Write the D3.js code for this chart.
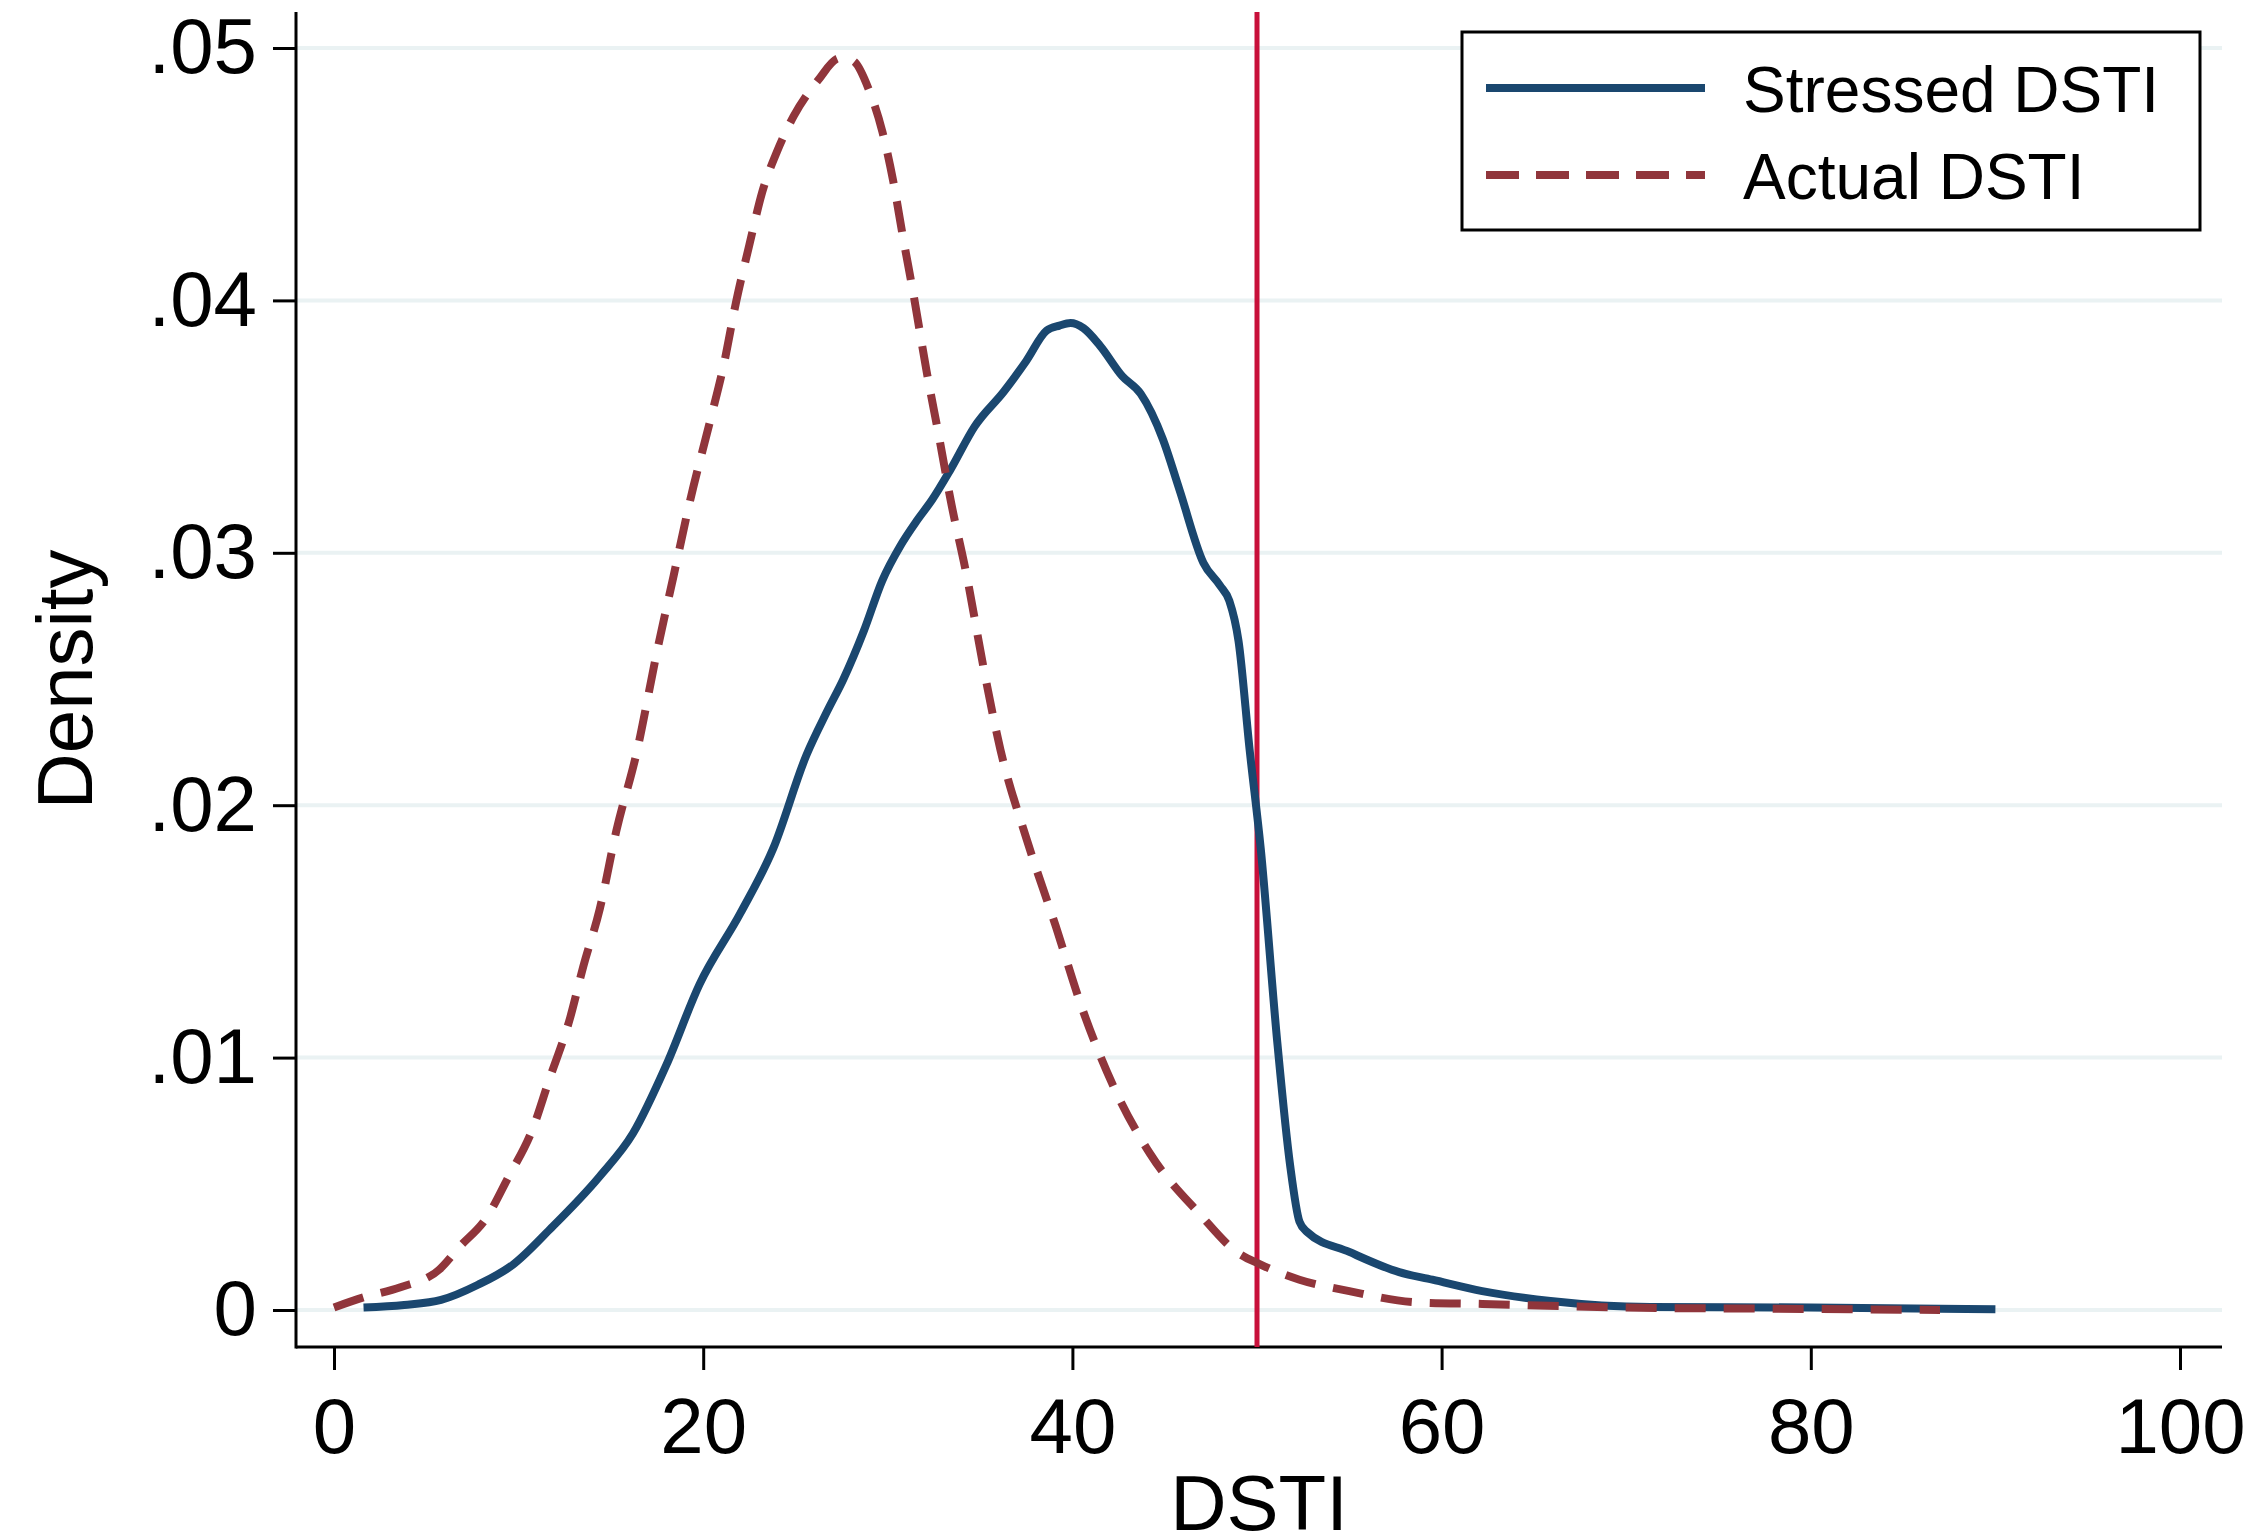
<!DOCTYPE html>
<html>
<head>
<meta charset="utf-8">
<script src="https://cdn.jsdelivr.net/npm/d3@7"></script>
<style>
  body { margin: 0; background: white; }
</style>
</head>
<body>
<script>
'use strict';

// DSTI values (x) and kernel density estimates
const stressedX = [1.6, 3.8, 5.8, 7.8, 9.7, 11.7, 14.4, 16.2, 18.0, 19.8, 22.0, 23.8, 25.6, 26.7, 27.6, 28.7,
  29.7, 30.7, 31.6, 32.4, 33.4, 34.7, 36.3, 37.5, 38.6, 39.3, 39.9, 40.6, 41.5, 42.7, 43.7, 44.9, 45.8, 47.1,
  48.0, 48.5, 49.0, 49.6, 50.2, 51.1, 51.8, 52.3, 52.7, 55.0, 57.7, 59.5, 62.2, 65.9, 71.3, 80.0, 90.0];
const stressedY = [0.0001, 0.0002, 0.0004, 0.0010, 0.0018, 0.0032, 0.0053, 0.0070, 0.0097, 0.0129, 0.0157,
  0.0183, 0.0220, 0.0237, 0.0250, 0.0269, 0.0289, 0.0303, 0.0313, 0.0321, 0.0333, 0.0350, 0.0364, 0.0376,
  0.0388, 0.0390, 0.0391, 0.0389, 0.0382, 0.0370, 0.0363, 0.0345, 0.0325, 0.0296, 0.0287, 0.0281, 0.0265,
  0.0222, 0.0183, 0.0106, 0.0057, 0.0035, 0.0031, 0.0023, 0.0015, 0.0012, 0.00075, 0.00036, 0.00012,
  0.0001, 0.00003];

const actualX = [0, 1.6, 3.6, 5.7, 6.8, 8.3, 9.4, 10.8, 11.6, 12.8, 13.5, 14.4, 15.3, 16.4, 17.5, 18.4,
  19.3, 20.4, 21.1, 21.8, 22.5, 23.2, 24.0, 24.9, 26.2, 27.4, 28.1, 29.0, 29.7, 30.3, 30.8, 31.4, 32.1,
  32.8, 33.4, 34.3, 35.2, 36.1, 37.5, 39.1, 40.6, 42.2, 44.2, 46.9, 48.9, 50.2, 52.3, 55.0, 58.7, 62.2,
  69.5, 78.0, 87.0];
const actualY = [0.0001, 0.0005, 0.0009, 0.0016, 0.0025, 0.0037, 0.0052, 0.00725, 0.0090, 0.0116, 0.0136,
  0.0159, 0.0190, 0.0221, 0.0261, 0.0291, 0.0321, 0.0353, 0.0374, 0.0400, 0.0422, 0.0443, 0.0459, 0.0473,
  0.0487, 0.0496, 0.0495, 0.0483, 0.0467, 0.0447, 0.0426, 0.0402, 0.0372, 0.0345, 0.0321, 0.0290, 0.0254,
  0.0222, 0.0187, 0.0152, 0.0118, 0.0089, 0.0062, 0.0038, 0.0023, 0.0018, 0.0012, 0.00075, 0.0003,
  0.00024, 0.0001, 0.00005, 0.0];

const xTicks = [0, 20, 40, 60, 80, 100];
const yTicks = [0, 0.01, 0.02, 0.03, 0.04, 0.05];
const yTickLabels = ["0", ".01", ".02", ".03", ".04", ".05"];
const threshold = 50;
const seriesNames = ["Stressed DSTI", "Actual DSTI"];

(function() {

  let svgContainer = "";
  const font = "'Liberation Sans', Arial, Helvetica, sans-serif";

  // plot box edges (axis lines run along these)
  const plotLeft = 296, plotRight = 2222, plotTop = 12, plotBottom = 1347;

  window.onload = function() {
    svgContainer = d3.select('body')
      .append('svg')
      .attr('width', 2267)
      .attr('height', 1539)
      .style('font-family', font);

    let map = drawAxes();
    plotData(map);
    makeLegend();
    makeLabels();
  }

  // scales, gridlines, axes and ticks
  function drawAxes() {
    let xScale = d3.scaleLinear()
      .domain([0, 100])
      .range([334, 2180]);

    let yScale = d3.scaleLinear()
      .domain([0, 0.05])
      .range([1310, 48]);

    // light horizontal gridlines
    svgContainer.append('g')
      .selectAll('line')
      .data(yTicks)
      .enter()
      .append('line')
        .attr('x1', plotLeft)
        .attr('x2', plotRight)
        .attr('y1', (d) => yScale(d))
        .attr('y2', (d) => yScale(d))
        .attr('stroke', '#eaf2f3')
        .attr('stroke-width', 4);

    // x axis
    let xAxis = d3.axisBottom(xScale)
      .tickValues(xTicks)
      .tickSize(23)
      .tickPadding(28)
      .tickFormat(d3.format('d'));
    let gx = svgContainer.append('g')
      .attr('transform', 'translate(0,' + plotBottom + ')')
      .call(xAxis);
    gx.select('.domain').remove();
    gx.append('line')
      .attr('x1', plotLeft).attr('x2', plotRight)
      .attr('y1', 0).attr('y2', 0)
      .attr('stroke', 'black').attr('stroke-width', 3);

    // y axis
    let yAxis = d3.axisLeft(yScale)
      .tickValues(yTicks)
      .tickSize(23)
      .tickPadding(16)
      .tickFormat((d, i) => yTickLabels[i]);
    let gy = svgContainer.append('g')
      .attr('transform', 'translate(' + plotLeft + ',0)')
      .call(yAxis);
    gy.select('.domain').remove();
    gy.append('line')
      .attr('x1', 0).attr('x2', 0)
      .attr('y1', plotTop).attr('y2', plotBottom + 1.5)
      .attr('stroke', 'black').attr('stroke-width', 3);

    // tick styling for both axes
    svgContainer.selectAll('.tick line')
      .attr('stroke', 'black')
      .attr('stroke-width', 3);
    svgContainer.selectAll('.tick text')
      .attr('fill', 'black')
      .style('font-family', font)
      .style('font-size', '78px');

    return { xScale: xScale, yScale: yScale };
  }

  // reference line and the two density curves
  function plotData(map) {
    let xScale = map.xScale;
    let yScale = map.yScale;

    // vertical line at DSTI = 50 (behind the curves)
    svgContainer.append('line')
      .attr('x1', xScale(threshold))
      .attr('x2', xScale(threshold))
      .attr('y1', plotTop)
      .attr('y2', plotBottom)
      .attr('stroke', '#c8103a')
      .attr('stroke-width', 5);

    const line = d3.line()
      .x(d => xScale(d[0]))
      .y(d => yScale(d[1]))
      .curve(d3.curveMonotoneX);

    let stressed = stressedX.map((x, i) => [x, stressedY[i]]);
    let actual = actualX.map((x, i) => [x, actualY[i]]);

    svgContainer.append('path')
      .datum(stressed)
      .attr('d', line)
      .attr('fill', 'none')
      .attr('stroke', '#1a476f')
      .attr('stroke-width', 8)
      .attr('stroke-linejoin', 'round');

    svgContainer.append('path')
      .datum(actual)
      .attr('d', line)
      .attr('fill', 'none')
      .attr('stroke', '#90353b')
      .attr('stroke-width', 8)
      .attr('stroke-dasharray', '31,18');
  }

  // legend box in the top right corner
  function makeLegend() {
    let legend = svgContainer.append('g');

    legend.append('rect')
      .attr('x', 1462)
      .attr('y', 32)
      .attr('width', 738)
      .attr('height', 198)
      .attr('fill', 'white')
      .attr('stroke', 'black')
      .attr('stroke-width', 3);

    let styles = [
      { color: '#1a476f', dash: null },
      { color: '#90353b', dash: '33,17' }
    ];

    seriesNames.forEach((name, i) => {
      let y = 88 + i * 87;
      legend.append('line')
        .attr('x1', 1486)
        .attr('x2', 1705)
        .attr('y1', y)
        .attr('y2', y)
        .attr('stroke', styles[i].color)
        .attr('stroke-width', 8)
        .attr('stroke-dasharray', styles[i].dash);

      legend.append('text')
        .attr('x', 1743)
        .attr('y', y + 24)
        .style('font-size', '64px')
        .attr('fill', 'black')
        .text(name);
    });
  }

  // axis titles
  function makeLabels() {
    svgContainer.append('text')
      .attr('x', (plotLeft + plotRight) / 2)
      .attr('y', 1530)
      .attr('text-anchor', 'middle')
      .style('font-size', '78px')
      .text('DSTI');

    svgContainer.append('text')
      .attr('transform', 'translate(92,' + (plotTop + plotBottom) / 2 + ')rotate(-90)')
      .attr('text-anchor', 'middle')
      .style('font-size', '78px')
      .text('Density');
  }

})();
</script>
</body>
</html>
